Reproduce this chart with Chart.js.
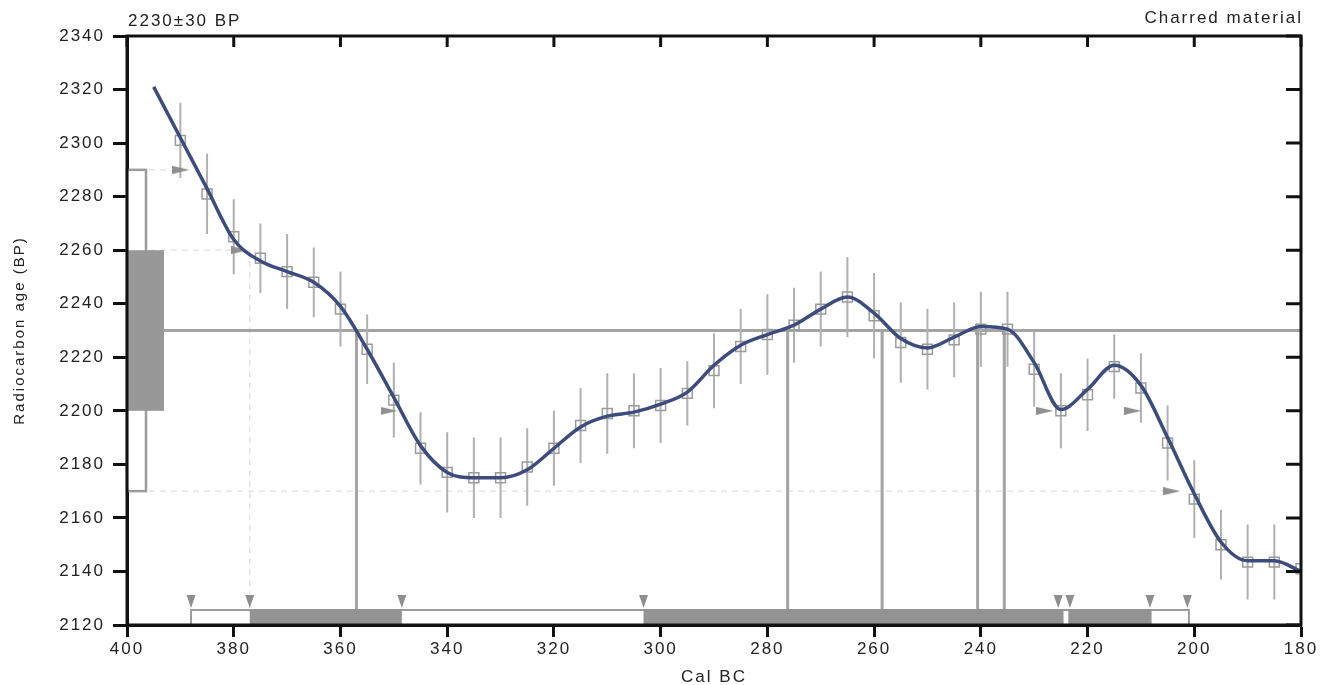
<!DOCTYPE html>
<html>
<head>
<meta charset="utf-8">
<script src="https://cdn.jsdelivr.net/npm/chart.js@4.4.0/dist/chart.umd.min.js"></script>
<style>
  html, body { margin: 0; padding: 0; background: #fff; }
  #wrap { width: 1329px; height: 685px; }
</style>
</head>
<body>
<div id="wrap"><canvas id="chart"></canvas></div>
<script>
// calibration curve data points (cal BC, radiocarbon BP, 1 sigma)
const calYears = [390, 385, 380, 375, 370, 365, 360, 355, 350, 345, 340, 335, 330, 325, 320,
  315, 310, 305, 300, 295, 290, 285, 280, 275, 270, 265, 260, 255, 250, 245, 240, 235, 230,
  225, 220, 215, 210, 205, 200, 195, 190, 185, 180];
const calBP = [2301, 2281, 2265, 2257, 2252, 2248, 2238, 2223, 2204, 2186, 2177, 2175, 2175, 2179, 2186,
  2194.5, 2199, 2200, 2202, 2206.5, 2215, 2224, 2228.5, 2232, 2238, 2242.5, 2235.5, 2225.5, 2223, 2226.5, 2230.5, 2230.5, 2215.5,
  2200, 2206, 2216.5, 2208.5, 2188, 2167, 2150, 2143.5, 2143.5, 2141];
const calErr = [14, 15, 14, 13, 14, 13, 14, 13, 14, 13.5, 15, 15, 15, 14.5, 14,
  14, 15, 14, 14, 12, 14, 14, 15, 14, 14, 15, 16, 15, 15, 14, 14, 14, 14,
  14, 13.5, 12, 13, 14, 14.5, 13, 14, 14, 15];

// smoothed calibration curve
const curveYears = [395, 390, 385, 380, 375, 370, 365, 360, 355, 350, 345, 340, 335, 330, 325, 320,
  315, 310, 305, 300, 295, 290, 285, 280, 275, 270, 265, 260, 255, 250, 245, 240, 235, 230,
  225, 220, 215, 210, 205, 200, 195, 190, 185, 180];
const curveBP = [2321, 2302, 2283, 2264, 2256, 2252, 2248, 2239, 2223, 2205, 2187, 2177, 2175, 2175, 2178, 2186,
  2194, 2198, 2199.5, 2202.5, 2207, 2217, 2224.5, 2228.5, 2232, 2238, 2242.5, 2236.5, 2227, 2223.5, 2227.5, 2231.5, 2230.5, 2218,
  2200.5, 2208, 2217, 2209.5, 2190, 2169, 2151, 2144, 2144, 2140];

// sample
const measuredBP = 2230;
const sigmaBP = 30;
const headerLeft = '2230±30 BP';
const headerRight = 'Charred material';

// calibrated ranges (cal BC)
const oneSigmaRanges = [[377, 348.5], [303.2, 224.5], [223.6, 208]];
const twoSigmaRanges = [[388, 201]];
const rangeMarks = [388, 377, 348.5, 303.2, 225.5, 223.3, 208.3, 201.3];
const interceptYears = [357, 276.2, 258.5, 240.6, 235.6];

// where the sigma levels meet the curve
const arrowYears = [389.9, 378.9, 350.9, 228, 211.5, 204.2];
const arrowBP = [2290, 2260, 2200, 2200, 2200, 2170];

// faint guide lines
const guideBP = [2290, 2260, 2170];
const guideEnd = [389.9, 379, 204];
const guideDropYear = 377;
const guideDropBP = 2260;

const xTicks = { min: 180, max: 400, step: 20 };
const yTicks = { min: 2120, max: 2340, step: 20 };

const FONT = '"Liberation Sans", Arial, sans-serif';
const GREY = '#a4a4a4';

function arrowImage(w, h) {
  const c = document.createElement('canvas');
  c.width = w; c.height = h;
  const g = c.getContext('2d');
  g.fillStyle = '#8f8f8f';
  g.beginPath();
  g.moveTo(0, 0); g.lineTo(w, h / 2); g.lineTo(0, h);
  g.closePath(); g.fill();
  return c;
}

function pairs(xs, y0, y1) {
  const out = [];
  xs.forEach((x, i) => {
    out.push({ x, y: typeof y0 === 'function' ? y0(i) : y0 });
    out.push({ x, y: typeof y1 === 'function' ? y1(i) : y1 });
    out.push({ x, y: null });
  });
  return out;
}

const guideData = [];
guideBP.forEach((bp, i) => {
  guideData.push({ x: 400, y: bp }, { x: guideEnd[i], y: bp }, { x: guideEnd[i], y: null });
});
guideData.push({ x: guideDropYear, y: guideDropBP }, { x: guideDropYear, y: yTicks.min });

const calibPlugin = {
  id: 'calib',
  beforeUpdate(chart) { chart.ctx.letterSpacing = '2px'; },
  beforeDraw(chart) { chart.ctx.letterSpacing = '2px'; },
  afterDatasetsDraw(chart) {
    const { ctx, chartArea: a, scales: { x, y } } = chart;
    ctx.save();
    // measured age on the BP axis
    const t2 = y.getPixelForValue(measuredBP + 2 * sigmaBP);
    const b2 = y.getPixelForValue(measuredBP - 2 * sigmaBP);
    ctx.fillStyle = '#fff';
    ctx.strokeStyle = '#9c9c9c';
    ctx.lineWidth = 2.5;
    ctx.fillRect(a.left, t2, 19, b2 - t2);
    ctx.strokeRect(a.left, t2, 19, b2 - t2);
    const t1 = y.getPixelForValue(measuredBP + sigmaBP);
    const b1 = y.getPixelForValue(measuredBP - sigmaBP);
    ctx.fillStyle = '#989898';
    ctx.fillRect(a.left, t1, 37, b1 - t1);

    // calibrated ranges along the calendar axis
    const barH = 15, barTop = a.bottom - barH;
    ctx.lineWidth = 2;
    twoSigmaRanges.forEach(([from, to]) => {
      const x0 = x.getPixelForValue(from), x1 = x.getPixelForValue(to);
      ctx.fillStyle = '#fff';
      ctx.fillRect(x0, barTop, x1 - x0, barH);
      ctx.strokeRect(x0, barTop, x1 - x0, barH);
    });
    ctx.fillStyle = '#939393';
    oneSigmaRanges.forEach(([from, to]) => {
      const x0 = x.getPixelForValue(from), x1 = x.getPixelForValue(to);
      ctx.fillRect(x0, barTop - 1, x1 - x0, barH + 1);
    });
    ctx.fillStyle = '#8f8f8f';
    rangeMarks.forEach(v => {
      const px = x.getPixelForValue(v);
      ctx.beginPath();
      ctx.moveTo(px - 4.5, barTop - 15);
      ctx.lineTo(px + 4.5, barTop - 15);
      ctx.lineTo(px, barTop - 2);
      ctx.closePath();
      ctx.fill();
    });
    ctx.restore();
  },
  afterDraw(chart) {
    const { ctx, chartArea: a, scales: { x, y } } = chart;
    ctx.save();
    ctx.strokeStyle = '#111';
    ctx.lineWidth = 3;
    ctx.strokeRect(a.left, a.top, a.right - a.left, a.bottom - a.top);
    ctx.beginPath();
    x.ticks.forEach(t => {
      const px = x.getPixelForValue(t.value);
      ctx.moveTo(px, a.top); ctx.lineTo(px, a.top + 11);
    });
    y.ticks.forEach(t => {
      const py = y.getPixelForValue(t.value);
      ctx.moveTo(a.right, py); ctx.lineTo(a.right - 15, py);
    });
    ctx.stroke();

    ctx.fillStyle = '#222';
    ctx.font = '17px ' + FONT;
    ctx.letterSpacing = '2px';
    ctx.textAlign = 'left';
    ctx.fillText(headerLeft, a.left + 1, 26);
    ctx.textAlign = 'right';
    ctx.fillText(headerRight, a.right + 2, 23);
    ctx.restore();
  }
};

const tickFont = { family: FONT, size: 17 };

new Chart(document.getElementById('chart'), {
  type: 'scatter',
  data: {
    datasets: [
      {
        label: 'curve',
        data: curveYears.map((x, i) => ({ x, y: curveBP[i] })),
        showLine: true,
        borderColor: '#3d4b7d',
        borderWidth: 3.5,
        pointRadius: 0,
        cubicInterpolationMode: 'monotone',
        order: 0
      },
      {
        label: 'arrows',
        data: arrowYears.map((x, i) => ({ x, y: arrowBP[i] })),
        pointStyle: arrowImage(17, 8),
        pointRadius: 8,
        order: 1
      },
      {
        label: 'cal points',
        data: calYears.map((x, i) => ({ x, y: calBP[i] })),
        pointStyle: 'rect',
        pointRadius: 7,
        borderColor: '#9b9b9b',
        borderWidth: 1.5,
        backgroundColor: 'rgba(255,255,255,0)',
        order: 2
      },
      {
        label: 'error bars',
        data: pairs(calYears, i => calBP[i] - calErr[i], i => calBP[i] + calErr[i]),
        showLine: true,
        borderColor: '#b0b0b0',
        borderWidth: 2,
        pointRadius: 0,
        order: 3
      },
      {
        label: 'measured',
        data: [{ x: 400, y: measuredBP }, { x: 180, y: measuredBP }],
        showLine: true,
        borderColor: GREY,
        borderWidth: 3,
        pointRadius: 0,
        order: 4
      },
      {
        label: 'intercepts',
        data: pairs(interceptYears, measuredBP, yTicks.min),
        showLine: true,
        borderColor: GREY,
        borderWidth: 3,
        pointRadius: 0,
        order: 4
      },
      {
        label: 'guides',
        data: guideData,
        showLine: true,
        borderColor: 'rgba(170,182,205,0.55)',
        borderWidth: 1,
        borderDash: [6, 5],
        pointRadius: 0,
        order: 5
      }
    ]
  },
  options: {
    responsive: true,
    maintainAspectRatio: false,
    animation: false,
    layout: { padding: { top: 36, right: 28, left: 0, bottom: 0 } },
    plugins: { legend: { display: false }, tooltip: { enabled: false } },
    scales: {
      x: {
        type: 'linear',
        reverse: true,
        min: xTicks.min,
        max: xTicks.max,
        afterFit(scale) { scale.height = 60; },
        ticks: { stepSize: xTicks.step, color: '#222', font: tickFont, padding: 2, maxRotation: 0,
          callback: v => String(v) },
        grid: { drawOnChartArea: false, tickLength: 12, tickWidth: 3, tickColor: '#111' },
        border: { display: true, color: '#111', width: 3 },
        title: { display: true, text: 'Cal BC', color: '#222', font: { family: FONT, size: 17 }, padding: { top: 0, bottom: -3 } }
      },
      y: {
        min: yTicks.min,
        max: yTicks.max,
        afterFit(scale) { scale.width = 127; },
        ticks: { stepSize: yTicks.step, color: '#222', font: tickFont, padding: 8,
          callback: v => String(v) },
        grid: { drawOnChartArea: false, tickLength: 14, tickWidth: 3, tickColor: '#111' },
        border: { display: true, color: '#111', width: 3 },
        title: { display: true, text: 'Radiocarbon age (BP)', color: '#222', font: { family: FONT, size: 15 }, padding: { top: 11, bottom: 0 } }
      }
    }
  },
  plugins: [calibPlugin]
});
</script>
</body>
</html>
